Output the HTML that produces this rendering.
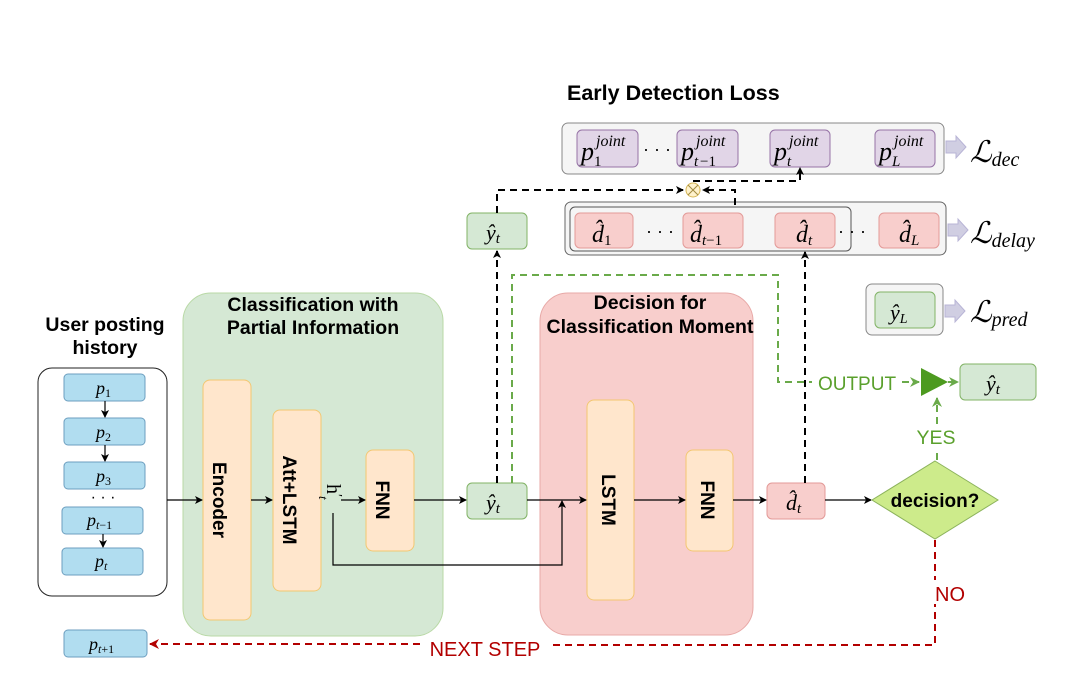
<!DOCTYPE html>
<html><head><meta charset="utf-8"><style>
html,body{margin:0;padding:0;background:#fff;}
svg{display:block;}
.b{font-family:"Liberation Sans",sans-serif;font-weight:bold;fill:#000;}
.m{font-family:"Liberation Serif",serif;font-style:italic;fill:#000;}
.s{font-family:"Liberation Sans",sans-serif;}
</style></head><body>
<svg width="1074" height="683" viewBox="0 0 1074 683" xmlns="http://www.w3.org/2000/svg">
<defs>
<marker id="a" markerWidth="8" markerHeight="8" refX="7" refY="4" orient="auto" markerUnits="userSpaceOnUse"><path d="M0,0 L8,4 L0,8 L2,4z" fill="#000"/></marker>
<marker id="ar" markerWidth="10" markerHeight="10" refX="9" refY="5" orient="auto" markerUnits="userSpaceOnUse"><path d="M0,0 L10,5 L0,10 L3,5z" fill="#b20000"/></marker>
<marker id="ag" markerWidth="10" markerHeight="10" refX="9" refY="5" orient="auto" markerUnits="userSpaceOnUse"><path d="M0,0 L10,5 L0,10 L3,5z" fill="#6aaa4a"/></marker>
</defs>
<rect width="1074" height="683" fill="#fff"/>

<!-- Early detection loss -->
<text x="567" y="100" class="b" font-size="21.5">Early Detection Loss</text>
<rect x="562" y="123" width="382" height="51" rx="6" fill="#f5f5f5" stroke="#888"/>
<g fill="#e1d5e7" stroke="#9673a6">
<rect x="577" y="130" width="61" height="37" rx="5"/>
<rect x="677" y="130" width="61" height="37" rx="5"/>
<rect x="770" y="130" width="60" height="37" rx="5"/>
<rect x="875" y="130" width="60" height="37" rx="5"/>
</g>
<g class="m">
<text x="581" y="160" font-size="26">p</text><text x="594" y="166" font-size="15" style="font-style:normal">1</text><text x="596" y="146" font-size="16">joint</text>
<text x="681" y="160" font-size="26">p</text><text x="694" y="166" font-size="15">t</text><text x="700" y="166" font-size="15" style="font-style:normal">−1</text><text x="696" y="146" font-size="16">joint</text>
<text x="774" y="160" font-size="26">p</text><text x="787" y="166" font-size="15">t</text><text x="789" y="146" font-size="16">joint</text>
<text x="879" y="160" font-size="26">p</text><text x="892" y="166" font-size="15">L</text><text x="894" y="146" font-size="16">joint</text>
</g>
<text x="643" y="155" font-size="18" class="s">· · ·</text>
<path d="M946,141 h10 v-5 l10,11 l-10,11 v-5 h-10z" fill="#d0cee2" stroke="#b8b4d6"/>
<text x="970" y="162" class="m" font-size="30">ℒ<tspan font-size="20" dy="4">dec</tspan></text>

<!-- delay -->
<rect x="565" y="202" width="381" height="53" rx="6" fill="#f5f5f5" stroke="#666"/>
<rect x="570" y="207" width="281" height="44" rx="5" fill="none" stroke="#555"/>
<g fill="#f8cecc" stroke="#e39a98">
<rect x="575" y="213" width="58" height="35" rx="5"/>
<rect x="683" y="213" width="60" height="35" rx="5"/>
<rect x="775" y="213" width="60" height="35" rx="5"/>
<rect x="879" y="213" width="60" height="35" rx="5"/>
</g>
<g class="m" font-size="24">
<text x="592" y="242">d̂<tspan font-size="15" dy="3" style="font-style:normal">1</tspan></text>
<text x="690" y="242">d̂<tspan font-size="15" dy="3">t</tspan><tspan font-size="15" style="font-style:normal">−1</tspan></text>
<text x="796" y="242">d̂<tspan font-size="15" dy="3">t</tspan></text>
<text x="899" y="242">d̂<tspan font-size="15" dy="3">L</tspan></text>
</g>
<text x="646" y="237" font-size="18" class="s">· · ·</text>
<text x="838" y="237" font-size="18" class="s">· · ·</text>
<path d="M948,224 h10 v-5 l10,11 l-10,11 v-5 h-10z" fill="#d0cee2" stroke="#b8b4d6"/>
<text x="970" y="243" class="m" font-size="30">ℒ<tspan font-size="20" dy="4">delay</tspan></text>

<!-- y_L -->
<rect x="866" y="284" width="77" height="51" rx="6" fill="#f5f5f5" stroke="#888"/>
<rect x="875" y="292" width="60" height="36" rx="5" fill="#d5e8d4" stroke="#82b366"/>
<text x="890" y="320" class="m" font-size="22">ŷ<tspan font-size="14" dy="3">L</tspan></text>
<path d="M945,305 h10 v-5 l10,11 l-10,11 v-5 h-10z" fill="#d0cee2" stroke="#b8b4d6"/>
<text x="970" y="322" class="m" font-size="30">ℒ<tspan font-size="20" dy="4">pred</tspan></text>

<!-- user posting -->
<text x="105" y="331" class="b" font-size="19.5" text-anchor="middle">User posting</text>
<text x="105" y="354" class="b" font-size="19.5" text-anchor="middle">history</text>
<rect x="38" y="368" width="129" height="228" rx="14" fill="#fff" stroke="#222"/>
<g fill="#b1ddf0" stroke="#6c9ebf">
<rect x="64" y="374" width="81" height="27" rx="4"/>
<rect x="64" y="418" width="81" height="27" rx="4"/>
<rect x="64" y="462" width="81" height="27" rx="4"/>
<rect x="62" y="507" width="81" height="27" rx="4"/>
<rect x="62" y="548" width="81" height="27" rx="4"/>
<rect x="64" y="630" width="83" height="27" rx="4"/>
</g>
<g class="m" font-size="18">
<text x="96" y="394">p<tspan font-size="12" dy="3" style="font-style:normal">1</tspan></text>
<text x="96" y="438">p<tspan font-size="12" dy="3" style="font-style:normal">2</tspan></text>
<text x="96" y="482">p<tspan font-size="12" dy="3" style="font-style:normal">3</tspan></text>
<text x="87" y="526">p<tspan font-size="12" dy="3">t</tspan><tspan font-size="12" style="font-style:normal">−1</tspan></text>
<text x="95" y="567">p<tspan font-size="12" dy="3">t</tspan></text>
<text x="89" y="650">p<tspan font-size="12" dy="3">t</tspan><tspan font-size="12" style="font-style:normal">+1</tspan></text>
</g>
<text x="103" y="502" font-size="16" class="s" text-anchor="middle">· · ·</text>
<g stroke="#000" stroke-width="1.2" marker-end="url(#a)">
<line x1="105" y1="401" x2="105" y2="417"/>
<line x1="105" y1="445" x2="105" y2="461"/>
<line x1="103" y1="534" x2="103" y2="547"/>
</g>

<!-- green panel -->
<rect x="183" y="293" width="260" height="343" rx="28" fill="#d5e8d4" stroke="#b9d9a6"/>
<text x="313" y="311" class="b" font-size="19.5" text-anchor="middle">Classification with</text>
<text x="313" y="334" class="b" font-size="19.5" text-anchor="middle">Partial Information</text>
<g fill="#ffe6cc" stroke="#f3c771">
<rect x="203" y="380" width="48" height="240" rx="7"/>
<rect x="273" y="410" width="48" height="181" rx="7"/>
<rect x="366" y="450" width="48" height="101" rx="7"/>
</g>
<g class="b" font-size="19" text-anchor="middle">
<text transform="translate(220,500) rotate(90)" y="7">Encoder</text>
<text transform="translate(290,500) rotate(90)" y="7">Att+LSTM</text>
<text transform="translate(383,500) rotate(90)" y="7">FNN</text>
</g>
<g transform="translate(327,484) rotate(90)">
<text x="0" y="0" font-family="Liberation Serif" font-size="20">h</text>
<text x="10" y="-6" font-family="Liberation Serif" font-size="14">′</text>
<text x="12" y="8" font-family="Liberation Serif" font-size="13" font-style="italic">t</text>
</g>

<!-- red panel -->
<rect x="540" y="293" width="213" height="342" rx="28" fill="#f8cecc" stroke="#e8a9a7"/>
<text x="650" y="309" class="b" font-size="19.5" text-anchor="middle">Decision for</text>
<text x="650" y="333" class="b" font-size="19.5" text-anchor="middle">Classification Moment</text>
<g fill="#ffe6cc" stroke="#f3c771">
<rect x="587" y="400" width="47" height="200" rx="7"/>
<rect x="686" y="450" width="47" height="101" rx="7"/>
</g>
<g class="b" font-size="19" text-anchor="middle">
<text transform="translate(609,500) rotate(90)" y="7">LSTM</text>
<text transform="translate(708,500) rotate(90)" y="7">FNN</text>
</g>

<!-- y_t boxes -->
<rect x="467" y="483" width="60" height="36" rx="5" fill="#d5e8d4" stroke="#82b366"/>
<text x="486" y="510" class="m" font-size="22">ŷ<tspan font-size="15" dy="3">t</tspan></text>
<rect x="467" y="213" width="60" height="36" rx="5" fill="#d5e8d4" stroke="#82b366"/>
<text x="486" y="240" class="m" font-size="22">ŷ<tspan font-size="15" dy="3">t</tspan></text>
<rect x="767" y="483" width="58" height="36" rx="5" fill="#f8cecc" stroke="#e39a98"/>
<text x="786" y="510" class="m" font-size="22">d̂<tspan font-size="15" dy="3">t</tspan></text>
<rect x="960" y="364" width="76" height="36" rx="5" fill="#d5e8d4" stroke="#82b366"/>
<text x="986" y="391" class="m" font-size="22">ŷ<tspan font-size="15" dy="3">t</tspan></text>

<!-- solid arrows -->
<g stroke="#000" stroke-width="1.2" fill="none" marker-end="url(#a)">
<line x1="167" y1="500" x2="202" y2="500"/>
<line x1="251" y1="500" x2="272" y2="500"/>
<line x1="341" y1="500" x2="365" y2="500"/>
<line x1="414" y1="500" x2="466" y2="500"/>
<line x1="527" y1="500" x2="586" y2="500"/>
<line x1="634" y1="500" x2="685" y2="500"/>
<line x1="733" y1="500" x2="766" y2="500"/>
<line x1="825" y1="500" x2="871" y2="500"/>
<polyline points="333,513 333,565 562,565 562,501"/>
</g>

<!-- diamond -->
<polygon points="935,461 998,500 935,539 872,500" fill="#cdeb8b" stroke="#8cb35c"/>
<text x="935" y="507" class="b" font-size="19" text-anchor="middle">decision?</text>

<!-- black dashed -->
<g stroke="#000" stroke-width="2" stroke-dasharray="7,5" fill="none">
<line x1="497" y1="483" x2="497" y2="251" marker-end="url(#a)"/>
<polyline points="497,213 497,190 683,190" marker-end="url(#a)"/>
<polyline points="735,205 735,190 703,190" marker-end="url(#a)"/>
<polyline points="693,181 800,181 800,168" marker-end="url(#a)"/>
<line x1="805" y1="483" x2="805" y2="252" marker-end="url(#a)"/>
</g>
<circle cx="693" cy="190" r="7" fill="#fff2cc" stroke="#d6b656"/>
<path d="M688,185 L698,195 M698,185 L688,195" stroke="#a08a40" stroke-width="1"/>

<!-- green dashed -->
<g stroke="#6aaa4a" stroke-width="2" stroke-dasharray="7,5" fill="none">
<polyline points="512,483 512,275 778,275 778,382 812,382"/>
<line x1="902" y1="382" x2="919" y2="382" marker-end="url(#ag)"/>
<line x1="937" y1="460" x2="937" y2="398" marker-end="url(#ag)"/>
<line x1="948" y1="382" x2="958" y2="382" marker-end="url(#ag)"/>
</g>
<rect x="918" y="426" width="38" height="22" fill="#fff"/>
<polygon points="921,368 948,382 921,396" fill="#4d9a1f"/>
<text x="857" y="390" class="s" font-size="19" fill="#5aa02c" text-anchor="middle">OUTPUT</text>
<text x="936" y="444" class="s" font-size="19.5" fill="#5aa02c" text-anchor="middle">YES</text>

<!-- red dashed -->
<g stroke="#b20000" stroke-width="2" stroke-dasharray="7,5" fill="none">
<polyline points="935,540 935,645 548,645"/>
<line x1="420" y1="644" x2="150" y2="644" marker-end="url(#ar)"/>
</g>
<rect x="932" y="580" width="36" height="24" fill="#fff"/>
<text x="950" y="601" class="s" font-size="20" fill="#b20000" text-anchor="middle">NO</text>
<text x="485" y="656" class="s" font-size="20" fill="#b20000" text-anchor="middle">NEXT STEP</text>
</svg>
</body></html>
